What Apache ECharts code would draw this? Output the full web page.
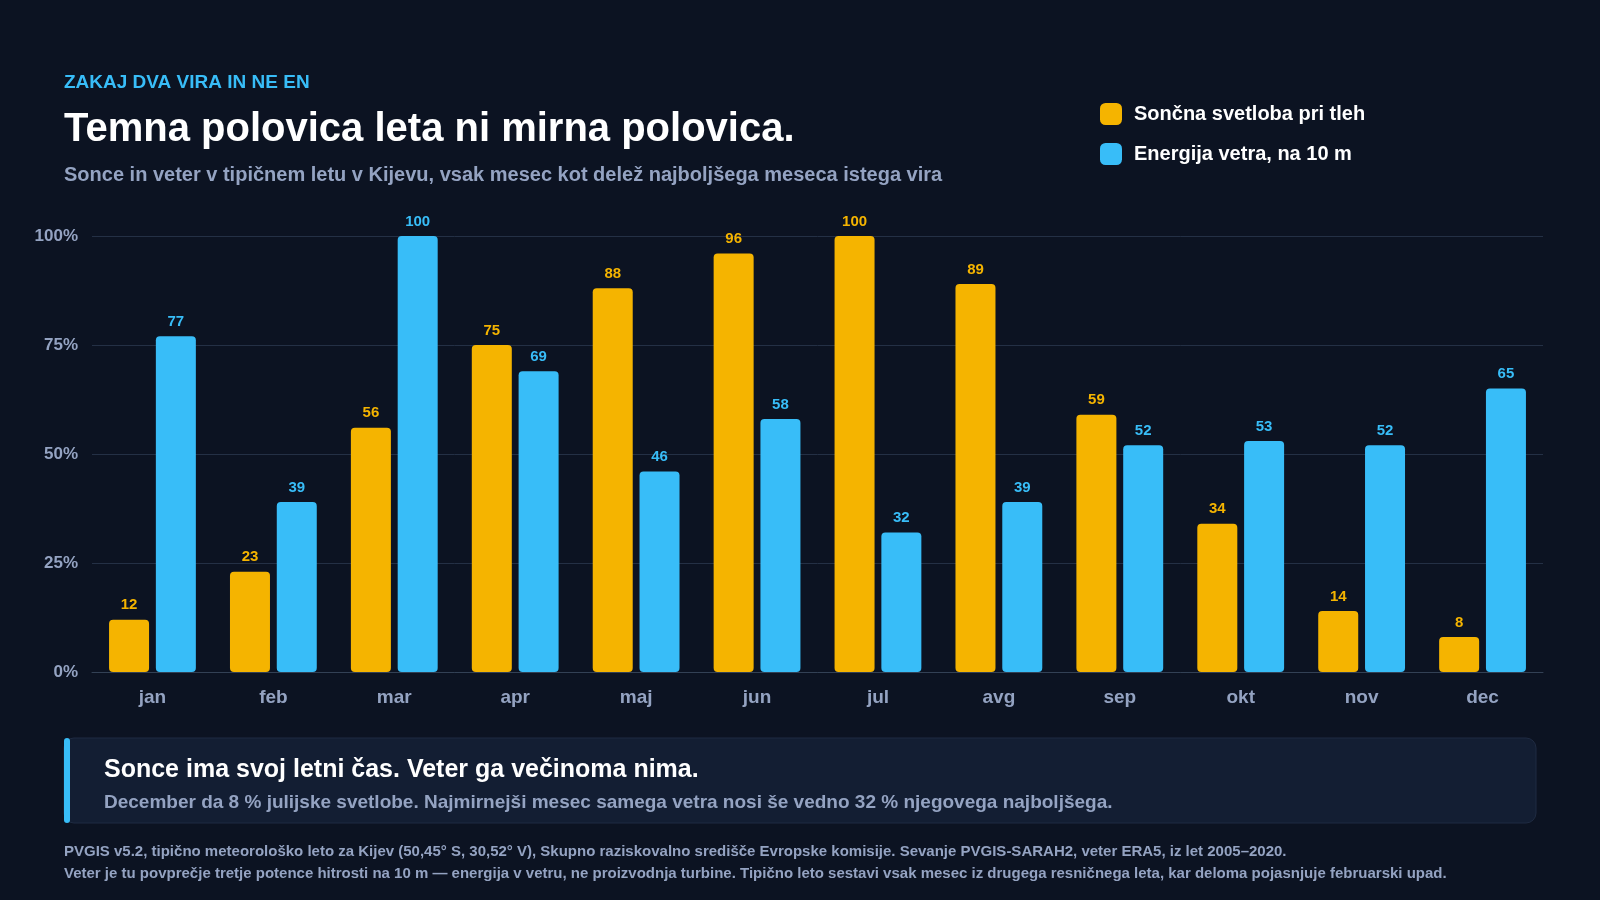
<!DOCTYPE html>
<html>
<head>
<meta charset="utf-8">
<script src="https://cdn.jsdelivr.net/npm/echarts@6/dist/echarts.min.js"></script>
<style>
  html, body { margin: 0; padding: 0; background: #0c1322; }
  #chart { width: 1600px; height: 900px; }
</style>
</head>
<body>
<div id="chart"></div>
<script>
// mesečni delež najboljšega meseca (%)
const months = ['jan', 'feb', 'mar', 'apr', 'maj', 'jun', 'jul', 'avg', 'sep', 'okt', 'nov', 'dec'];
const sunShare = [12, 23, 56, 75, 88, 96, 100, 89, 59, 34, 14, 8];
const windShare = [77, 39, 100, 69, 46, 58, 32, 39, 52, 53, 52, 65];
const yTicks = [0, 25, 50, 75, 100];

const SUN = '#f5b400';
const WIND = '#38bdf8';
const MUTED = '#94a3c2';
const FONT = '"Liberation Sans", Arial, sans-serif';

const chart = echarts.init(document.getElementById('chart'), null, { renderer: 'canvas' });

function barSeries(name, data, color) {
  return {
    name: name,
    type: 'bar',
    data: data,
    barWidth: 40,
    barGap: '17%',
    itemStyle: { color: color, borderRadius: 4 },
    label: {
      show: true,
      position: 'top',
      distance: 7,
      color: color,
      fontFamily: FONT,
      fontWeight: 'bold',
      fontSize: 15
    },
    emphasis: { disabled: true }
  };
}

chart.setOption({
  backgroundColor: '#0c1322',
  animation: false,
  textStyle: { fontFamily: FONT },
  legend: {
    orient: 'vertical',
    left: 1095,
    top: 98,
    itemWidth: 22,
    itemHeight: 22,
    itemGap: 18,
    icon: 'roundRect',
    selectedMode: false,
    textStyle: { color: '#ffffff', fontSize: 20, fontWeight: 'bold', fontFamily: FONT, padding: [0, 0, 0, 7] },
    data: ['Sončna svetloba pri tleh', 'Energija vetra, na 10 m']
  },
  grid: { left: 92, right: 57, top: 236, bottom: 228 },
  xAxis: {
    type: 'category',
    data: months,
    axisTick: { show: false },
    axisLine: { lineStyle: { color: '#334155', width: 1 } },
    axisLabel: { color: MUTED, fontSize: 19, fontWeight: 'bold', fontFamily: FONT, margin: 16 }
  },
  yAxis: {
    type: 'value',
    min: yTicks[0],
    max: yTicks[yTicks.length - 1],
    interval: 25,
    axisLine: { show: false },
    axisTick: { show: false },
    splitLine: { lineStyle: { color: '#243045', width: 1 } },
    axisLabel: { color: MUTED, fontSize: 17, fontWeight: 'bold', fontFamily: FONT, margin: 14, formatter: '{value}%' }
  },
  series: [
    barSeries('Sončna svetloba pri tleh', sunShare, SUN),
    barSeries('Energija vetra, na 10 m', windShare, WIND)
  ],
  graphic: [
    { type: 'text', left: 64, top: 73, style: { text: 'ZAKAJ DVA VIRA IN NE EN', fill: WIND, font: 'bold 19px ' + FONT } },
    { type: 'text', left: 64, top: 110, style: { text: 'Temna polovica leta ni mirna polovica.', fill: '#ffffff', font: 'bold 40px ' + FONT } },
    { type: 'text', left: 64, top: 165, style: { text: 'Sonce in veter v tipičnem letu v Kijevu, vsak mesec kot delež najboljšega meseca istega vira', fill: MUTED, font: 'bold 20px ' + FONT } },
    {
      type: 'rect',
      shape: { x: 64, y: 738, width: 1472, height: 85, r: 10 },
      style: { fill: '#131e33', stroke: '#1f2b42', lineWidth: 1 }
    },
    {
      type: 'rect',
      shape: { x: 64, y: 738, width: 6, height: 85, r: 3 },
      style: { fill: WIND }
    },
    { type: 'text', left: 104, top: 758, style: { text: 'Sonce ima svoj letni čas. Veter ga večinoma nima.', fill: '#ffffff', font: 'bold 25px ' + FONT } },
    { type: 'text', left: 104, top: 793, style: { text: 'December da 8 % julijske svetlobe. Najmirnejši mesec samega vetra nosi še vedno 32 % njegovega najboljšega.', fill: MUTED, font: 'bold 19px ' + FONT } },
    { type: 'text', left: 64, top: 844, style: { text: 'PVGIS v5.2, tipično meteorološko leto za Kijev (50,45° S, 30,52° V), Skupno raziskovalno središče Evropske komisije. Sevanje PVGIS-SARAH2, veter ERA5, iz let 2005–2020.', fill: MUTED, font: 'bold 15px ' + FONT } },
    { type: 'text', left: 64, top: 866, style: { text: 'Veter je tu povprečje tretje potence hitrosti na 10 m — energija v vetru, ne proizvodnja turbine. Tipično leto sestavi vsak mesec iz drugega resničnega leta, kar deloma pojasnjuje februarski upad.', fill: MUTED, font: 'bold 15px ' + FONT } }
  ]
});
</script>
</body>
</html>
